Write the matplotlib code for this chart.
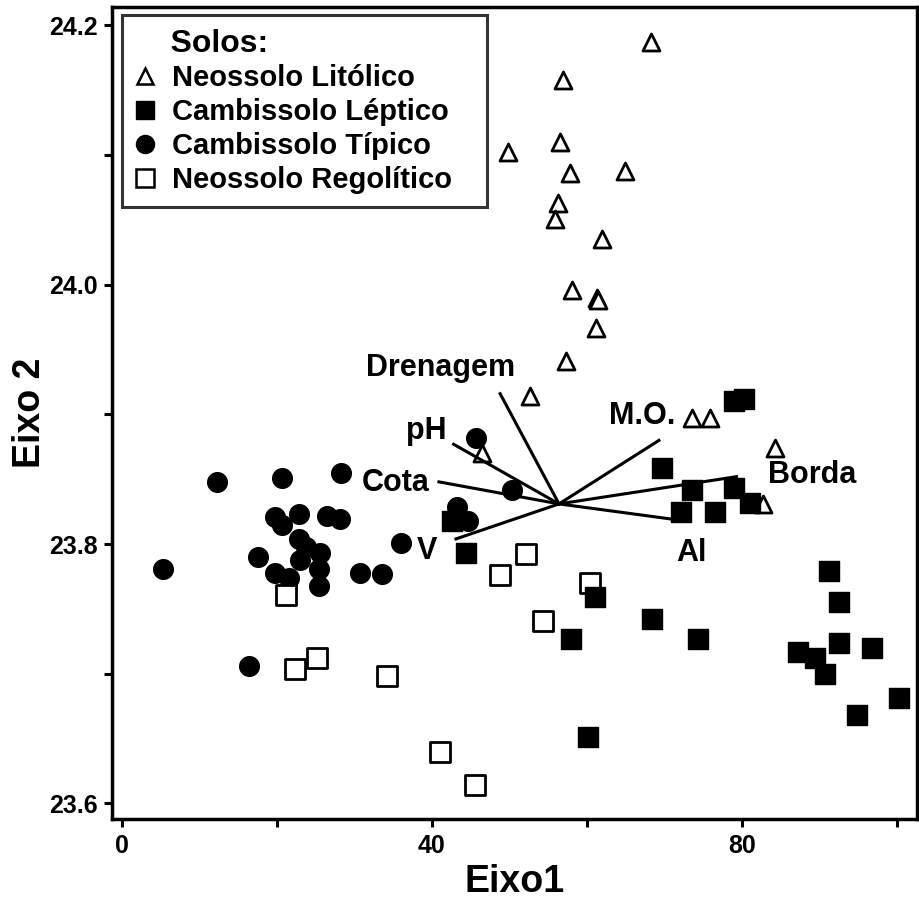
import matplotlib
matplotlib.use("Agg")
import matplotlib.pyplot as plt
from matplotlib.lines import Line2D

plt.rcParams['font.family'] = ['Liberation Sans', 'DejaVu Sans']
plt.rcParams['font.weight'] = 'bold'

# Neossolo Litolico (open triangles)
lit_x = [68.3, 56.9, 56.5, 49.8, 57.8, 64.9, 56.3, 55.9, 62.0, 58.1, 61.3, 61.4,
         61.2, 57.3, 52.7, 46.4, 73.6, 75.9, 84.3, 82.7]
lit_y = [24.187, 24.158, 24.110, 24.102, 24.086, 24.088, 24.063, 24.051, 24.035,
         23.996, 23.990, 23.988, 23.967, 23.941, 23.914, 23.870, 23.897, 23.897,
         23.874, 23.831]

# Cambissolo Leptico (filled squares)
lep_x = [79.0, 80.3, 69.7, 73.5, 79.0, 72.2, 76.5, 81.0, 44.4, 42.6, 91.3, 92.5,
         61.1, 68.4, 57.9, 74.3, 92.5, 96.8, 87.2, 89.4, 90.7, 100.3, 94.8, 60.2]
lep_y = [23.910, 23.912, 23.859, 23.842, 23.843, 23.825, 23.825, 23.832, 23.793,
         23.818, 23.779, 23.755, 23.759, 23.742, 23.727, 23.727, 23.724, 23.720,
         23.717, 23.712, 23.700, 23.681, 23.668, 23.651]

# Cambissolo Tipico (filled circles)
tip_x = [12.3, 20.6, 28.2, 19.8, 20.6, 22.9, 26.5, 28.1, 22.8, 23.8, 25.6, 17.6,
         23.0, 5.3, 19.7, 21.5, 25.4, 25.4, 30.7, 33.5, 36.0, 16.4, 45.7, 50.3,
         43.2, 44.6]
tip_y = [23.848, 23.851, 23.855, 23.821, 23.815, 23.823, 23.822, 23.819, 23.804,
         23.798, 23.793, 23.790, 23.788, 23.781, 23.778, 23.774, 23.781, 23.768,
         23.778, 23.777, 23.801, 23.706, 23.882, 23.842, 23.829, 23.818]

# Neossolo Regolitico (open squares)
reg_x = [52.1, 48.8, 60.4, 54.3, 41.0, 45.5, 21.1, 25.2, 22.3, 34.2]
reg_y = [23.792, 23.776, 23.770, 23.741, 23.640, 23.614, 23.761, 23.712, 23.704,
         23.698]

# environmental vectors
origin = (56.4, 23.831)
vec_names = ['Drenagem', 'pH', 'Cota', 'V', 'M.O.', 'Borda', 'Al']
vec_x = [48.8, 42.8, 40.9, 43.1, 69.3, 79.3, 71.3]
vec_y = [23.916, 23.877, 23.848, 23.804, 23.880, 23.852, 23.819]
lab_x = [41.1, 39.2, 35.3, 39.3, 67.1, 89.1, 73.5]
lab_y = [23.936, 23.887, 23.847, 23.795, 23.899, 23.853, 23.793]

fig = plt.figure(figsize=(9.2, 9.08), dpi=100)
ax = fig.add_axes([0.1217, 0.098, 0.875, 0.894])

ax.scatter(lit_x, lit_y, marker='^', s=150, facecolor='white', edgecolor='black',
           linewidth=2, zorder=3)
ax.scatter(tip_x, tip_y, marker='o', s=200, color='black', zorder=3)
ax.scatter(reg_x, reg_y, marker='s', s=220, facecolor='white', edgecolor='black',
           linewidth=2, zorder=3)
ax.scatter(lep_x, lep_y, marker='s', s=220, color='black', zorder=4)

for vx, vy in zip(vec_x, vec_y):
    ax.plot([origin[0], vx], [origin[1], vy], color='black', lw=2.2, zorder=5)
for name, tx, ty in zip(vec_names, lab_x, lab_y):
    ax.text(tx, ty, name, ha='center', va='center', fontsize=22,
            fontweight='bold', zorder=6)

ax.set_xlim(-1.3, 102.6)
ax.set_ylim(23.588, 24.214)
ax.set_xticks([0, 20, 40, 60, 80, 100])
ax.set_xticklabels(['0', '', '40', '', '80', ''])
ax.set_yticks([23.6, 23.7, 23.8, 23.9, 24.0, 24.1, 24.2])
ax.set_yticklabels(['23.6', '', '23.8', '', '24.0', '', '24.2'])
for lab in ax.get_xticklabels() + ax.get_yticklabels():
    lab.set_family(['Liberation Sans Narrow', 'Liberation Sans'])
    lab.set_fontweight('bold')
    lab.set_fontsize(18)
ax.tick_params(direction='out', length=6, width=2.2)
ax.tick_params(axis='y', pad=4)
ax.tick_params(axis='x', pad=5)
for sp in ax.spines.values():
    sp.set_linewidth(2.5)

ax.set_xlabel('Eixo1', fontsize=27, fontweight='bold')
ax.set_ylabel('Eixo 2', fontsize=27, fontweight='bold')
ax.xaxis.set_label_coords(0.5, -0.055)
ax.yaxis.set_label_coords(-0.08, 0.5)

handles = [
    Line2D([], [], ls='', marker='^', ms=12, mfc='white', mec='black', mew=1.8),
    Line2D([], [], ls='', marker='s', ms=13, color='black'),
    Line2D([], [], ls='', marker='o', ms=13, color='black'),
    Line2D([], [], ls='', marker='s', ms=13, mfc='white', mec='black', mew=1.8),
]
labels = ['Neossolo Litólico', 'Cambissolo Léptico', 'Cambissolo Típico',
          'Neossolo Regolítico']
leg = ax.legend(handles, labels, loc='upper left', fontsize=21,
                title='    Solos:', title_fontproperties={'size': 23, 'weight': 'bold'},
                alignment='left', frameon=True, fancybox=False, edgecolor='black',
                bbox_to_anchor=(0.0124, 0.3, 0.4534, 0.69), mode='expand',
                borderaxespad=0, borderpad=0.45, handlelength=0.7,
                handletextpad=0.55, labelspacing=0.2)
leg.get_frame().set_linewidth(2.2)
leg.set_zorder(10)

fig.savefig('out.png', dpi=100)
